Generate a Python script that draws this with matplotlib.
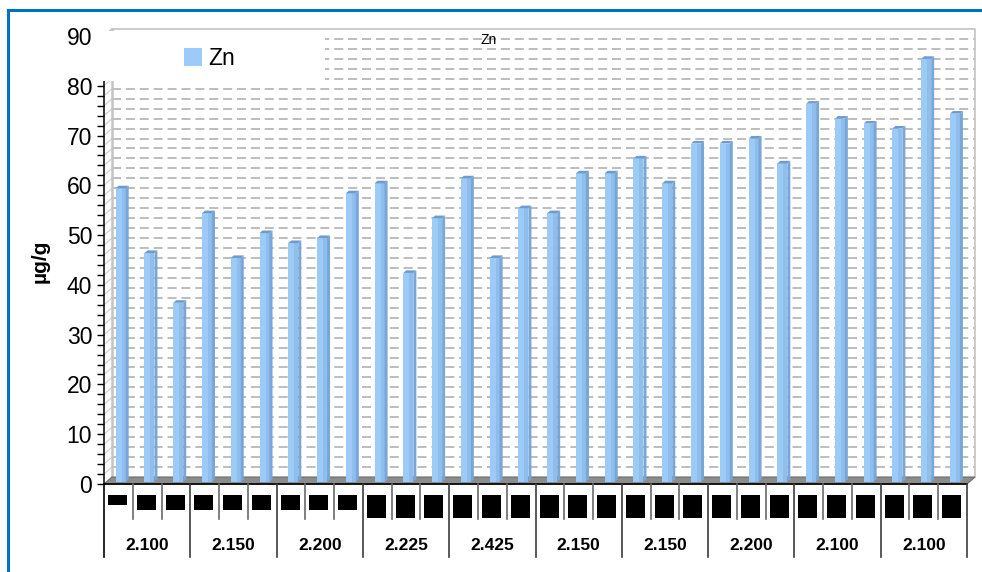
import numpy as np
import matplotlib.pyplot as plt
from matplotlib.patches import Rectangle, Polygon
from matplotlib.ticker import MultipleLocator

plt.rcParams['font.family'] = ['Liberation Sans', 'DejaVu Sans']
plt.rcParams['lines.scale_dashes'] = False

groups = ['2.100', '2.150', '2.200', '2.225', '2.425',
          '2.150', '2.150', '2.200', '2.100', '2.100']
zn = [59, 46, 36, 54, 45, 50, 48, 49, 58, 60,
      42, 53, 61, 45, 55, 54, 62, 62, 65, 60,
      68, 68, 69, 64, 76, 73, 72, 71, 85, 74]
yticks = [0, 10, 20, 30, 40, 50, 60, 70, 80, 90]
ymax = 90

W, H = 982, 572
L, R, B, T = 104, 967, 484, 36
fig = plt.figure(figsize=(W / 100, H / 100), dpi=100)
ax = fig.add_axes([L / W, 1 - B / H, (R - L) / W, (B - T) / H])

n = len(zn)
x = np.arange(n)
ax.set_xlim(-0.5, n - 0.5)
ax.set_ylim(0, ymax)

# data units per pixel, used for the fake 3d depth
ux = n / (R - L)
uy = ymax / (B - T)
dx, dy = 8 * ux, 7 * uy

# back wall gridlines (every 2 units)
for v in range(2, ymax, 2):
    ax.plot([-0.5 + dx, n - 0.5 + dx], [v + dy, v + dy], color='#bdbdbd',
            lw=1.4, ls=(0, (6.5, 3.5)), zorder=1, clip_on=False)
    ax.plot([-0.5, -0.5 + dx], [v, v + dy], color='#d0d0d0', lw=0.8,
            zorder=1, clip_on=False)

# wall edges
wall = '#c4c4c4'
ax.plot([-0.5 + dx, n - 0.5 + dx, n - 0.5 + dx], [ymax + dy, ymax + dy, dy],
        color=wall, lw=1.2, zorder=1, clip_on=False)
ax.plot([-0.5 + dx, -0.5 + dx], [dy, ymax + dy], color=wall, lw=1.8,
        zorder=1, clip_on=False)
ax.plot([-0.5, -0.5 + dx], [ymax, ymax + dy], color=wall, lw=1.2,
        zorder=1, clip_on=False)

# floor
floor = Polygon([(-0.5, 0), (n - 0.5, 0), (n - 0.5 + dx, dy), (-0.5 + dx, dy)],
                closed=True, facecolor='#8c8c8c', edgecolor='#6a6a6a', lw=0.8,
                zorder=2, clip_on=False)
ax.add_patch(floor)
ax.plot([-0.5, n - 0.5], [0, 0], color='black', lw=1.2, zorder=3, clip_on=False)

# columns: front face + side + top
bw = 10 * ux
fx, fy = 2.3 * ux, 2 * uy
sdx, sdy = 3 * ux, 2.6 * uy
ax.bar(x + fx, zn, width=bw, bottom=fy, color='#9dcbf8', lw=0, zorder=4)
ax.bar(x + fx + bw * 0.3, zn, width=bw * 0.4, bottom=fy, color='#8fbdec',
       lw=0, zorder=4)
for i, v in enumerate(zn):
    xl, xr = i - bw / 2 + fx, i + bw / 2 + fx
    top = fy + v
    ax.add_patch(Polygon([(xr, fy), (xr + sdx, fy + sdy), (xr + sdx, top + sdy), (xr, top)],
                         closed=True, facecolor='#78a6d8', lw=0, zorder=4))
    ax.add_patch(Polygon([(xl, top), (xr, top), (xr + sdx, top + sdy), (xl + sdx, top + sdy)],
                         closed=True, facecolor='#6f9bcc', lw=0, zorder=4,
                         clip_on=False))

# y axis
for side in ['top', 'right', 'bottom']:
    ax.spines[side].set_visible(False)
ax.spines['left'].set_linewidth(1.1)
ax.set_yticks(yticks)
ax.yaxis.set_minor_locator(MultipleLocator(2))
ax.tick_params(axis='y', which='both', direction='out', length=5, width=1,
               color='black', labelsize=16.5, pad=3.5)
ax.tick_params(axis='x', bottom=False, labelbottom=False)
ax.patch.set_visible(False)

# category table under the floor
for k in range(n + 1):
    xb = k - 0.5
    depth = 73 if k % 3 == 0 else 35
    col = 'black' if k == 0 else ('#3c3c3c' if k % 3 == 0 else '#6a6a6a')
    ax.plot([xb, xb], [0, -depth * uy], color=col, lw=1.2, clip_on=False, zorder=3)

for i in range(n):
    h = 10 if i == 0 else (15 if i < 9 else 23)
    ax.add_patch(Rectangle((i - 0.36, -(11 + h) * uy), 0.66, h * uy,
                           facecolor='black', lw=0, clip_on=False, zorder=3))

for g, name in enumerate(groups):
    ax.text(3 * g + 1, -61 * uy, name, ha='center', va='center',
            fontsize=12.5, fontweight='bold', clip_on=False)

# legend with white backing box
fig.add_artist(Rectangle((95 / W, 1 - 81 / H), 230 / W, 50 / H,
                         transform=fig.transFigure, facecolor='white',
                         edgecolor='none', zorder=3))
handle = Rectangle((0, 0), 1, 1, facecolor='#9dcbf8', edgecolor='none')
leg = fig.legend([handle], ['Zn'], loc='upper left',
                 bbox_to_anchor=(184 / W, 1 - 47 / H), frameon=False,
                 fontsize=16.5, handlelength=0.8, handleheight=0.8,
                 handletextpad=0.25, borderpad=0, borderaxespad=0)
leg.set_zorder(4)

fig.text(489 / W, 1 - 40 / H, 'Zn', fontsize=10, ha='center', va='center')
fig.text(40 / W, 1 - 261 / H, 'µg/g', rotation=90, fontsize=15,
         fontweight='bold', ha='center', va='center')

# outer blue frame
fig.add_artist(Rectangle((8 / W, -0.1), 1.2, 1.1 - 10 / H, transform=fig.transFigure,
                         fill=False, edgecolor='#0070c0', lw=2.2, zorder=10))

fig.savefig('out.png', dpi=100)
